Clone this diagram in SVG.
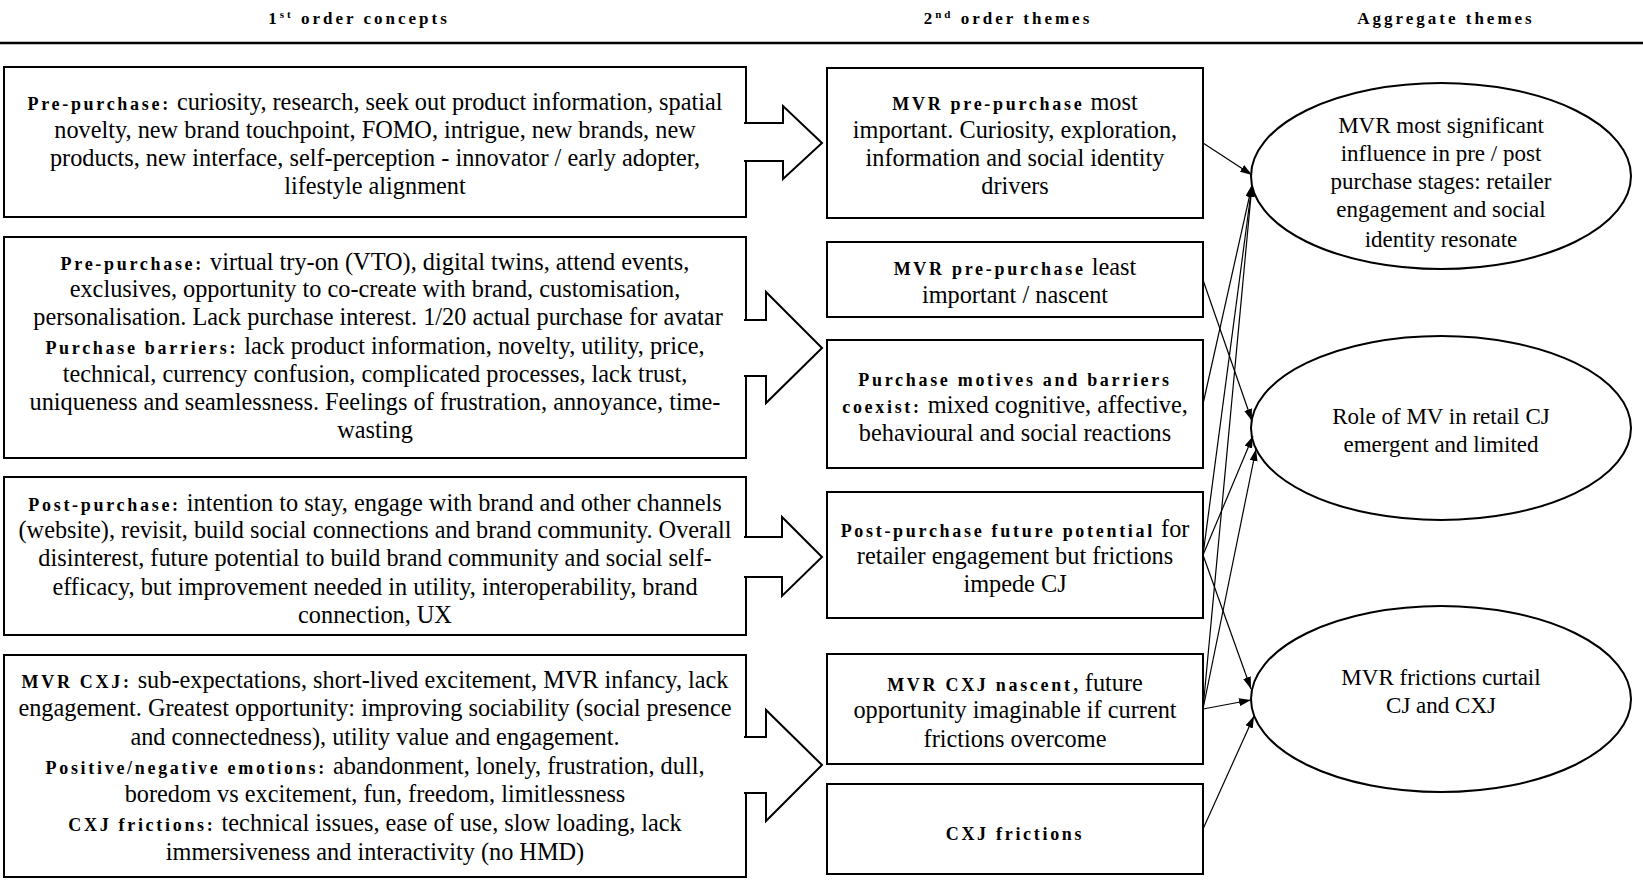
<svg xmlns="http://www.w3.org/2000/svg" width="1643" height="880" viewBox="0 0 1643 880">
<defs>
<style>
.t{font-family:"Liberation Serif","Times New Roman",serif;font-size:24.3px;fill:#000;text-anchor:middle}
.e{font-size:23px}
.b{font-weight:bold;font-size:18px;letter-spacing:2.7px}
.h{font-family:"Liberation Serif","Times New Roman",serif;font-size:17px;font-weight:bold;letter-spacing:3px;fill:#000;text-anchor:middle}
.box{fill:#fff;stroke:#000;stroke-width:2}
.blk{fill:#fff;stroke:#000;stroke-width:2;stroke-linejoin:miter}
.con{stroke:#000;stroke-width:1.2;fill:none;marker-end:url(#ah)}
</style>
<marker id="ah" markerUnits="userSpaceOnUse" markerWidth="12" markerHeight="8" refX="12" refY="4" orient="auto">
<path d="M0,0 L12,4 L0,8 z" fill="#000"/>
</marker>
</defs>
<rect width="1643" height="880" fill="#fff"/>
<g id="header">
<text class="h" x="359" y="24">1<tspan font-size="11" dy="-6">st</tspan><tspan dy="6"> order concepts</tspan></text>
<text class="h" x="1008" y="24">2<tspan font-size="11" dy="-6">nd</tspan><tspan dy="6"> order themes</tspan></text>
<text class="h" x="1446" y="24">Aggregate themes</text>
<line x1="0" y1="43" x2="1643" y2="43" stroke="#000" stroke-width="2.5"/>
</g>
<g id="box1">
<rect class="box" x="4" y="67" width="742" height="150"/>
<text class="t" x="375" y="110"><tspan class="b">Pre-purchase:</tspan> curiosity, research, seek out product information, spatial</text>
<text class="t" x="375" y="138">novelty, new brand touchpoint, FOMO, intrigue, new brands, new</text>
<text class="t" x="375" y="166">products, new interface, self-perception - innovator / early adopter,</text>
<text class="t" x="375" y="194">lifestyle alignment</text>
</g>
<g id="box2">
<rect class="box" x="4" y="237" width="742" height="221"/>
<text class="t" x="375" y="270"><tspan class="b">Pre-purchase:</tspan> virtual try-on (VTO), digital twins, attend events,</text>
<text class="t" x="375" y="297">exclusives, opportunity to co-create with brand, customisation,</text>
<text class="t" x="378" y="325">personalisation. Lack purchase interest. 1/20 actual purchase for avatar</text>
<text class="t" x="375" y="354"><tspan class="b">Purchase barriers:</tspan> lack product information, novelty, utility, price,</text>
<text class="t" x="375" y="382">technical, currency confusion, complicated processes, lack trust,</text>
<text class="t" x="375" y="410">uniqueness and seamlessness. Feelings of frustration, annoyance, time-</text>
<text class="t" x="375" y="438">wasting</text>
</g>
<g id="box3">
<rect class="box" x="4" y="477" width="742" height="158"/>
<text class="t" x="375" y="511"><tspan class="b">Post-purchase:</tspan> intention to stay, engage with brand and other channels</text>
<text class="t" x="375" y="538">(website), revisit, build social connections and brand community. Overall</text>
<text class="t" x="375" y="566">disinterest, future potential to build brand community and social self-</text>
<text class="t" x="375" y="595">efficacy, but improvement needed in utility, interoperability, brand</text>
<text class="t" x="375" y="623">connection, UX</text>
</g>
<g id="box4">
<rect class="box" x="4" y="655" width="742" height="222"/>
<text class="t" x="375" y="688"><tspan class="b">MVR CXJ:</tspan> sub-expectations, short-lived excitement, MVR infancy, lack</text>
<text class="t" x="375" y="716">engagement. Greatest opportunity: improving sociability (social presence</text>
<text class="t" x="375" y="745">and connectedness), utility value and engagement.</text>
<text class="t" x="375" y="774"><tspan class="b">Positive/negative emotions:</tspan> abandonment, lonely, frustration, dull,</text>
<text class="t" x="375" y="802">boredom vs excitement, fun, freedom, limitlessness</text>
<text class="t" x="375" y="831"><tspan class="b">CXJ frictions:</tspan> technical issues, ease of use, slow loading, lack</text>
<text class="t" x="375" y="860">immersiveness and interactivity (no HMD)</text>
</g>
<g id="block-arrows">
<path class="blk" d="M744,123 H783 V106 L822,143 L783,179 V161 H744"/>
<path class="blk" d="M744,320 H766 V292 L822,348 L766,403 V376 H744"/>
<path class="blk" d="M744,537 H782 V517 L822,557 L782,596 V577 H744"/>
<path class="blk" d="M744,737 H766 V710 L822,765 L766,821 V793 H744"/>
</g>
<g id="m1">
<rect class="box" x="827" y="68" width="376" height="150"/>
<text class="t" x="1015" y="110"><tspan class="b">MVR pre-purchase</tspan> most</text>
<text class="t" x="1015" y="138">important. Curiosity, exploration,</text>
<text class="t" x="1015" y="166">information and social identity</text>
<text class="t" x="1015" y="194">drivers</text>
</g>
<g id="m2">
<rect class="box" x="827" y="242" width="376" height="75"/>
<text class="t" x="1015" y="275"><tspan class="b">MVR pre-purchase</tspan> least</text>
<text class="t" x="1015" y="303">important / nascent</text>
</g>
<g id="m3">
<rect class="box" x="827" y="340" width="376" height="128"/>
<text class="t" x="1015" y="386"><tspan class="b">Purchase motives and barriers</tspan></text>
<text class="t" x="1015" y="413"><tspan class="b">coexist:</tspan> mixed cognitive, affective,</text>
<text class="t" x="1015" y="441">behavioural and social reactions</text>
</g>
<g id="m4">
<rect class="box" x="827" y="492" width="376" height="126"/>
<text class="t" x="1015" y="537"><tspan class="b">Post-purchase future potential</tspan> for</text>
<text class="t" x="1015" y="564">retailer engagement but frictions</text>
<text class="t" x="1015" y="592">impede CJ</text>
</g>
<g id="m5">
<rect class="box" x="827" y="654" width="376" height="110"/>
<text class="t" x="1015" y="691"><tspan class="b">MVR CXJ nascent</tspan>, future</text>
<text class="t" x="1015" y="718">opportunity imaginable if current</text>
<text class="t" x="1015" y="747">frictions overcome</text>
</g>
<g id="m6">
<rect class="box" x="827" y="784" width="376" height="90"/>
<text class="t" x="1015" y="840"><tspan class="b">CXJ frictions</tspan></text>
</g>
<g id="e1">
<ellipse class="box" cx="1441" cy="176" rx="190" ry="93"/>
<text class="t e" x="1441" y="133">MVR most significant</text>
<text class="t e" x="1441" y="161">influence in pre / post</text>
<text class="t e" x="1441" y="189">purchase stages: retailer</text>
<text class="t e" x="1441" y="217">engagement and social</text>
<text class="t e" x="1441" y="247">identity resonate</text>
</g>
<g id="e2">
<ellipse class="box" cx="1441" cy="428" rx="190" ry="92"/>
<text class="t e" x="1441" y="424">Role of MV in retail CJ</text>
<text class="t e" x="1441" y="452">emergent and limited</text>
</g>
<g id="e3">
<ellipse class="box" cx="1441" cy="699" rx="190" ry="93"/>
<text class="t e" x="1441" y="685">MVR frictions curtail</text>
<text class="t e" x="1441" y="713">CJ and CXJ</text>
</g>
<g id="connectors">
<line class="con" x1="1203" y1="143" x2="1252" y2="175"/>
<line class="con" x1="1203" y1="404" x2="1252" y2="185"/>
<line class="con" x1="1203" y1="555" x2="1252" y2="185"/>
<line class="con" x1="1203" y1="709" x2="1252" y2="185"/>
<line class="con" x1="1203" y1="280" x2="1252" y2="421"/>
<line class="con" x1="1203" y1="555" x2="1253" y2="436"/>
<line class="con" x1="1203" y1="709" x2="1256" y2="449"/>
<line class="con" x1="1203" y1="555" x2="1251" y2="689"/>
<line class="con" x1="1203" y1="709" x2="1251" y2="700"/>
<line class="con" x1="1203" y1="829" x2="1254" y2="716"/>
</g>
</svg>
